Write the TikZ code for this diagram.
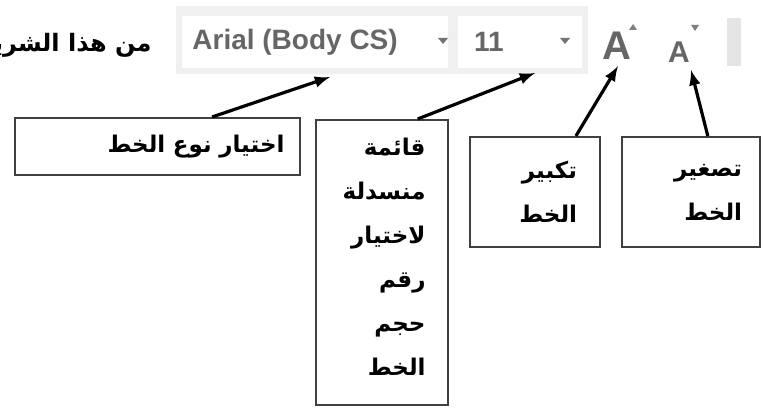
\documentclass[tikz,border=0pt]{standalone}
\usepackage{fontspec}
\setmainfont{Liberation Sans}
\newfontfamily\arabicfont[Script=Arabic]{DejaVu Sans}
\TeXXeTstate=1
\usetikzlibrary{calc}

\newcommand\artext[1]{\beginR #1\endR}

\tikzset{
  callout/.style={draw=black!75, line width=1pt, align=right, inner ysep=0pt,
    font=\arabicfont\bfseries\fontsize{11.5}{22}\selectfont},
  pointer/.style={-latex, line width=1.6pt},
  tooltext/.style={text=black!60, font=\bfseries\fontsize{14}{16}\selectfont, inner sep=0pt},
}

\begin{document}
\begin{tikzpicture}[x=0.5pt,y=-0.5pt]
        \useasboundingbox (0,0) rectangle (763,417);
        \clip (0,0) rectangle (763,417);

        % ribbon
        \fill[black!6] (176,6) rectangle (588,74);
        \fill[white] (182,16) rectangle (448,68);
        \fill[white] (458,16) rectangle (582,68);
        \fill[black!10] (727,18) rectangle (741,66);
        \node[anchor=east, inner sep=0pt, font=\arabicfont\bfseries\fontsize{12}{14}\selectfont] (intro) at (152,45) {\artext{من هذا الشريط}};
        \node[tooltext, anchor=west] (fontname) at (192,42) {Arial (Body CS)};
        \fill[black!55] (438,38) -- (448,38) -- (443,44) -- cycle;
        \node[tooltext] (fontsize) at (489,42) {11};
        \fill[black!55] (560,38) -- (570,38) -- (565,44) -- cycle;
        \node[tooltext, font=\bfseries\fontsize{20}{22}\selectfont] (grow) at (617,46) {A};
        \fill[black!50] (629,30) -- (637,30) -- (633,24) -- cycle;
        \node[tooltext, font=\bfseries\fontsize{15}{17}\selectfont] (shrink) at (679,52) {A};
        \fill[black!50] (691,25) -- (699,25) -- (695,31) -- cycle;

        % arrow tips
        \coordinate (fonttip) at (330,77);
        \coordinate (sizetip) at (535,73);
        \coordinate (growtip) at (618,66);
        \coordinate (shrinktip) at (691,70);

        % boxes
        \node[callout, minimum width=142.5pt, minimum height=28.5pt, text width=127pt, inner xsep=7.5pt] (fontbox) at (157.5,146.5)
            {\artext{اختيار نوع الخط}};
        \node[callout, minimum width=65.5pt, minimum height=142.5pt, text width=44pt, inner xsep=11pt] (sizebox) at (381.5,262.5)
            {\artext{قائمة}\\ \artext{منسدلة}\\ \artext{لاختيار}\\ \artext{رقم}\\ \artext{حجم}\\ \artext{الخط}\\[-16pt]\mbox{}};
        \node[callout, minimum width=65pt, minimum height=55pt, text width=42pt, inner xsep=11.5pt] (growbox) at (535,192)
            {\artext{تكبير}\\ \artext{الخط}};
        \node[callout, minimum width=69pt, minimum height=55pt, text width=51pt, inner xsep=9pt] (shrinkbox) at (691,192)
            {\artext{تصغير}\\ \artext{الخط}};

        \draw[pointer] ($(fontbox.north west)!0.69!(fontbox.north east)$) -- (fonttip);
        \draw[pointer] ($(sizebox.north west)!0.77!(sizebox.north east)$) -- (sizetip);
        \draw[pointer] ($(growbox.north west)!0.81!(growbox.north east)$) -- (growtip);
        \draw[pointer] ($(shrinkbox.north west)!0.62!(shrinkbox.north east)$) -- (shrinktip);
    \end{tikzpicture}
\end{document}
